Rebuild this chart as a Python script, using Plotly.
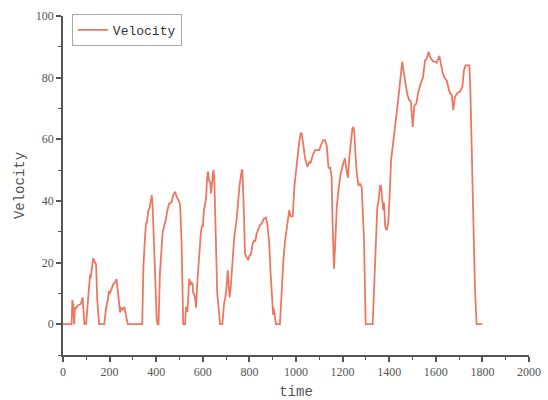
import plotly.graph_objects as go

time = [0, 37, 40, 44, 48, 51, 56, 62, 70, 76, 84, 88, 92, 99, 106, 113, 116, 118, 120, 127, 130, 137, 142, 147, 155,
        177, 185, 192, 197, 200, 209, 216, 223, 230, 232, 237, 245, 250, 256, 263, 266, 273, 278,
        340, 345, 352, 356, 360, 366, 371, 375, 381, 385, 391, 396, 402, 405, 410,
        416, 421, 428, 435, 441, 448, 456, 466, 473, 481, 488, 499, 503, 509, 514, 516, 524,
        528, 534, 538, 542, 544, 547, 552, 556, 558, 562, 566, 571, 577, 585, 591, 596, 600, 605, 614,
        618, 622, 627, 632, 635, 641, 645, 649, 655, 662, 669, 674, 684,
        691, 697, 702, 707, 711, 715, 720, 728, 735, 745, 757, 767, 770, 777, 781, 786, 795, 800, 807,
        814, 820, 825, 831, 845, 852, 863, 871, 877, 885, 891, 897, 900, 902, 904, 914, 931,
        939, 946, 953, 963, 971, 977, 986, 993, 1003, 1013, 1020, 1024, 1031, 1039, 1049, 1057, 1062,
        1072, 1082, 1090, 1100, 1110, 1117, 1124, 1132, 1139, 1143, 1146, 1153, 1157, 1163, 1167,
        1175, 1182, 1192, 1203, 1210, 1218, 1223, 1229, 1236, 1242, 1246, 1250, 1255, 1261, 1268,
        1275, 1282, 1286, 1292, 1296, 1299, 1329, 1335, 1343, 1349, 1354, 1361, 1365, 1370, 1374,
        1378, 1383, 1389, 1396, 1403, 1408, 1415, 1425, 1435, 1443, 1450, 1456, 1468, 1478, 1486,
        1493, 1501, 1508, 1516, 1525, 1535, 1545, 1554, 1560, 1569, 1576, 1589, 1597, 1604, 1615,
        1622, 1630, 1637, 1647, 1655, 1661, 1668, 1675, 1682, 1692, 1704, 1714, 1721, 1728, 1736,
        1744, 1748, 1754, 1761, 1768, 1775, 1790, 1800]

velocity = [0, 0, 7.8, 6.0, 0, 5.6, 5.0, 6.0, 6.3, 6.5, 8.7, 5.0, 0, 0, 7.8, 14, 16, 14.8, 16, 20.5, 21.4, 20, 19.5, 7.8, 0,
            0, 5.4, 7.6, 10.8, 9.7, 11.4, 13, 13.5, 14.6, 13, 9.7, 3.8, 5.2, 4.8, 5.6, 4.5, 1.0, 0,
            0, 18.6, 28.3, 32.7, 33, 37, 37.5, 39.2, 41.9, 37.7, 26.2, 11, 2, 0, 0,
            16.5, 21.9, 30, 32.1, 33.8, 37, 39.2, 39.5, 41.9, 43, 41.3, 39.7, 38.5, 26.2, 10, 0, 0,
            5.6, 4.0, 12, 14.8, 12.5, 14, 12.8, 13.5, 10.3, 10, 8.9, 5.4, 14, 24, 29, 32, 31.5, 37, 40.8,
            46.8, 49.5, 46.5, 46, 42.4, 48.9, 50, 48, 28.3, 10, 4.3, 0, 0,
            6.5, 8.7, 12, 17.5, 11, 8.7, 12, 23, 28.3, 33.8, 44.6, 50, 50, 34.8, 23, 22, 20.8, 22.2, 22.7,
            26.2, 27.3, 26.8, 29.4, 32.1, 32.6, 34.3, 34.6, 32.5, 26.2, 16.5, 6.7, 6.2, 3, 5.4, 0, 0,
            12, 20.8, 27, 32.7, 37, 35, 35, 44.6, 52.2, 58.7, 61.9, 61.9, 58.4, 53.8, 51.1, 52.6, 52.2,
            54.9, 56.5, 56.5, 56.5, 58.7, 59.7, 59.7, 58, 51.1, 50.5, 51, 47.8, 32.7, 18, 24,
            38, 43.5, 48.9, 52.2, 53.8, 49.5, 47.5, 54.3, 60.8, 63.5, 64, 62.5, 55.4, 48.9, 45.1,
            45.5, 44.6, 38, 27.3, 11, 0, 0, 13.2, 28.3, 38, 39.8, 45.1, 44.8, 39.2, 37,
            39.5, 31.6, 30.5, 33, 43.5, 53.2, 57.6, 65.2, 70.5, 76, 81.5, 85.2, 79, 74.4, 72.7,
            72.3, 64, 71, 71.5, 75.4, 78, 80, 85.7, 85.9, 88.4, 86.5, 85.2, 85.2, 84.8, 87,
            84.5, 81.4, 80, 79, 76.5, 74.9, 74.5, 69.5, 73.7, 75, 75.5, 77, 82.5, 84, 84,
            84, 77, 55.4, 33.8, 12, 0, 0, 0]

line_color = "#EE7761"
axis_color = "#555555"
tick_font = dict(family="Liberation Serif", size=12, color="#555555")
title_font = dict(family="Liberation Mono", size=14, color="#555555")

fig = go.Figure()
fig.add_trace(go.Scatter(x=time, y=velocity, mode="lines", name="Velocity",
                         line=dict(color=line_color, width=1.8)))

fig.update_layout(
    width=548, height=400,
    margin=dict(l=63, r=19, t=16, b=45),
    paper_bgcolor="white", plot_bgcolor="white",
    showlegend=True,
    legend=dict(x=0.019, y=1.006, xanchor="left", yanchor="top",
                bordercolor="#AAAAAA", borderwidth=1, bgcolor="white",
                font=dict(family="Liberation Mono", size=13, color="#333333"),
                itemwidth=30, tracegroupgap=0),
)
fig.update_xaxes(range=[0, 2000], tick0=0, dtick=200, showgrid=False, zeroline=False, automargin=False,
                 showline=True, linecolor=axis_color, linewidth=1.5,
                 ticks="outside", ticklen=5, tickwidth=1.5, tickcolor=axis_color,
                 minor=dict(ticks="outside", ticklen=3, tickwidth=1.2, tickcolor=axis_color, dtick=100, tick0=0),
                 tickfont=tick_font, title=dict(text="time", font=title_font, standoff=15))
fig.update_yaxes(range=[-10, 100], tick0=0, dtick=20, showgrid=False, zeroline=False, automargin=False,
                 showline=True, linecolor=axis_color, linewidth=1.5,
                 ticks="outside", ticklen=5, tickwidth=1.5, tickcolor=axis_color,
                 minor=dict(ticks="outside", ticklen=3, tickwidth=1.2, tickcolor=axis_color, dtick=10, tick0=0),
                 tickfont=tick_font, title=dict(text="Velocity", font=title_font, standoff=8))

fig.write_html("out.html")
